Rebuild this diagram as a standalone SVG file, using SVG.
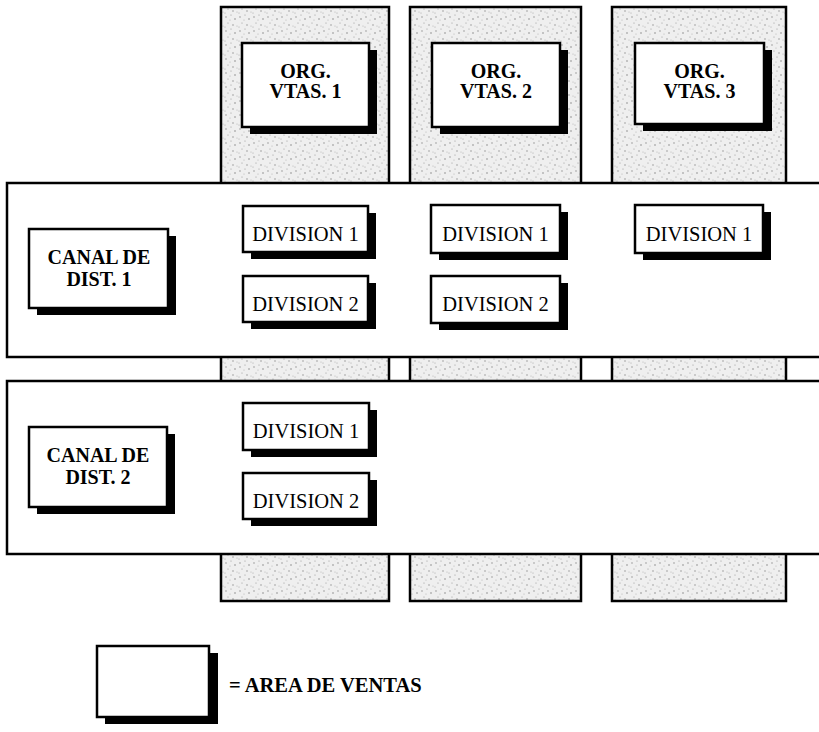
<svg xmlns="http://www.w3.org/2000/svg" width="819" height="732" viewBox="0 0 819 732">
<defs>
<pattern id="stip" width="14" height="14" patternUnits="userSpaceOnUse">
<rect width="14" height="14" fill="#efefef"/>
<circle cx="2" cy="3" r="0.7" fill="#888"/>
<circle cx="7" cy="1" r="0.6" fill="#999"/>
<circle cx="11" cy="5" r="0.7" fill="#777"/>
<circle cx="4" cy="9" r="0.6" fill="#999"/>
<circle cx="9" cy="11" r="0.7" fill="#888"/>
<circle cx="13" cy="12" r="0.5" fill="#aaa"/>
<circle cx="6" cy="6" r="0.5" fill="#aaa"/>
<circle cx="1" cy="13" r="0.5" fill="#999"/>
</pattern>
<style>
.area{fill:url(#stip);stroke:#000;stroke-width:2.5}
.strip{fill:#fff;stroke:#000;stroke-width:2.5}
.box{fill:#fff;stroke:#000;stroke-width:2.5}
.sh{fill:#000}
.tb{font-family:"Liberation Serif","Times New Roman",serif;font-weight:bold;font-size:20px;fill:#000;text-anchor:middle}
.tr{font-family:"Liberation Serif","Times New Roman",serif;font-size:20.5px;fill:#000;text-anchor:middle}
.lg{font-family:"Liberation Serif","Times New Roman",serif;font-weight:bold;font-size:20.5px;fill:#000}
</style>
</defs>
<rect width="819" height="732" fill="#fff"/>
<g id="areas">
<rect class="area" x="221" y="7" width="168" height="594"/>
<rect class="area" x="410" y="7" width="171" height="594"/>
<rect class="area" x="612" y="7" width="174" height="594"/>
</g>
<g id="org1">
<rect class="sh" x="250" y="50" width="127" height="84"/>
<rect class="box" x="242" y="43" width="127" height="84"/>
<text class="tb" x="305.5" y="78">ORG.</text>
<text class="tb" x="305.5" y="98">VTAS. 1</text>
</g>
<g id="org2">
<rect class="sh" x="440" y="50" width="128" height="84"/>
<rect class="box" x="432" y="43" width="128" height="84"/>
<text class="tb" x="496" y="78">ORG.</text>
<text class="tb" x="496" y="98">VTAS. 2</text>
</g>
<g id="org3">
<rect class="sh" x="643" y="50" width="129" height="81"/>
<rect class="box" x="635" y="43" width="129" height="81"/>
<text class="tb" x="699.5" y="78">ORG.</text>
<text class="tb" x="699.5" y="98">VTAS. 3</text>
</g>
<g id="canal1-strip">
<rect class="strip" x="7" y="183" width="830" height="174"/>
</g>
<g id="canal2-strip">
<rect class="strip" x="7" y="381" width="830" height="173"/>
</g>
<g id="canal1">
<rect class="sh" x="37" y="236" width="139" height="79"/>
<rect class="box" x="29" y="229" width="139" height="79"/>
<text class="tb" x="99" y="264">CANAL DE</text>
<text class="tb" x="99" y="286">DIST. 1</text>
</g>
<g id="canal2">
<rect class="sh" x="37" y="434" width="138" height="80"/>
<rect class="box" x="29" y="427" width="138" height="80"/>
<text class="tb" x="98" y="462">CANAL DE</text>
<text class="tb" x="98" y="484">DIST. 2</text>
</g>
<g id="c1-org1-div1">
<rect class="sh" x="251" y="213" width="125" height="46"/>
<rect class="box" x="243" y="206" width="125" height="46"/>
<text class="tr" x="305.5" y="241">DIVISION 1</text>
</g>
<g id="c1-org1-div2">
<rect class="sh" x="251" y="283" width="125" height="46"/>
<rect class="box" x="243" y="276" width="125" height="46"/>
<text class="tr" x="305.5" y="311">DIVISION 2</text>
</g>
<g id="c1-org2-div1">
<rect class="sh" x="439" y="212" width="129" height="48"/>
<rect class="box" x="431" y="205" width="129" height="48"/>
<text class="tr" x="495.5" y="241">DIVISION 1</text>
</g>
<g id="c1-org2-div2">
<rect class="sh" x="439" y="283" width="129" height="47"/>
<rect class="box" x="431" y="276" width="129" height="47"/>
<text class="tr" x="495.5" y="311">DIVISION 2</text>
</g>
<g id="c1-org3-div1">
<rect class="sh" x="643" y="212" width="128" height="48"/>
<rect class="box" x="635" y="205" width="128" height="48"/>
<text class="tr" x="699" y="241">DIVISION 1</text>
</g>
<g id="c2-org1-div1">
<rect class="sh" x="251" y="410" width="126" height="47"/>
<rect class="box" x="243" y="403" width="126" height="47"/>
<text class="tr" x="306" y="438">DIVISION 1</text>
</g>
<g id="c2-org1-div2">
<rect class="sh" x="251" y="480" width="126" height="46"/>
<rect class="box" x="243" y="473" width="126" height="46"/>
<text class="tr" x="306" y="508">DIVISION 2</text>
</g>
<g id="connectors"></g>
<g id="legend">
<rect class="sh" x="105" y="653" width="113" height="71"/>
<rect class="box" x="97" y="646" width="112" height="71"/>
<text class="lg" x="229" y="692">= AREA DE VENTAS</text>
</g>
</svg>
